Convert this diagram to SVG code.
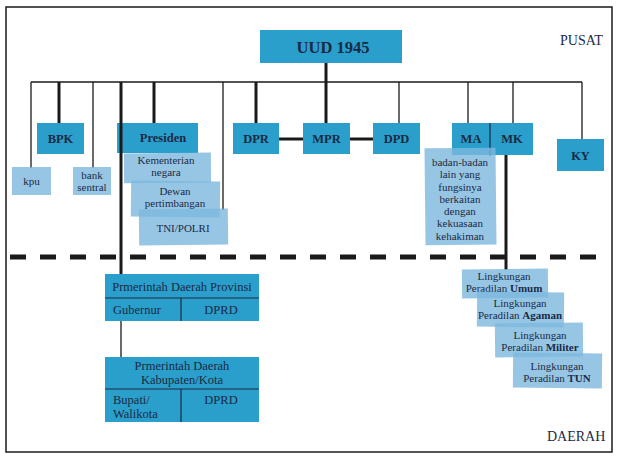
<svg xmlns="http://www.w3.org/2000/svg" width="619" height="461" viewBox="0 0 619 461">
<style>
text{font-family:"Liberation Serif","DejaVu Serif",serif;fill:#1b2a44;font-size:11px}
.b{font-weight:bold}
.s{font-size:11px}
.m{font-size:12.5px}
.lb{font-size:12.5px;font-weight:bold}
.main{fill:#2a9fcb}
.lt{fill:#7db8de;fill-opacity:0.8}
.thin{stroke:#1a1a1a;stroke-width:1.3;fill:none}
.thick{stroke:#1a1a1a;stroke-width:3;fill:none}
.div{stroke:#1b2a44;stroke-width:1.2}
</style>
<rect width="619" height="461" fill="#fff"/>
<rect x="6" y="7" width="606" height="445" fill="none" stroke="#1a1a1a" stroke-width="1.5"/>
<text x="560" y="45" style="font-size:14px">PUSAT</text>
<text x="547" y="441" style="font-size:14px">DAERAH</text>
<g id="connectors">
<line class="thin" x1="31" y1="82" x2="582" y2="82"/>
<line class="thick" x1="326" y1="63" x2="326" y2="123"/>
<line class="thin" x1="31" y1="82" x2="31" y2="168"/>
<line class="thick" x1="59" y1="82" x2="59" y2="123"/>
<line class="thin" x1="93" y1="82" x2="93" y2="168"/>
<line class="thick" x1="154" y1="82" x2="154" y2="123"/>
<line class="thin" x1="223" y1="82" x2="223" y2="210"/>
<line class="thick" x1="256" y1="82" x2="256" y2="123"/>
<line class="thin" x1="399" y1="82" x2="399" y2="123"/>
<line class="thin" x1="468" y1="82" x2="468" y2="123"/>
<line class="thin" x1="513" y1="82" x2="513" y2="123"/>
<line class="thin" x1="582" y1="82" x2="582" y2="139"/>
<line class="thick" x1="279" y1="139" x2="303" y2="139"/>
<line class="thick" x1="350" y1="139" x2="373" y2="139"/>
<line class="thick" x1="506" y1="155" x2="506" y2="270"/>
<line class="thin" x1="121" y1="321" x2="121" y2="357"/>
<line x1="10" y1="257" x2="606" y2="257" stroke="#1a1a1a" stroke-width="5" stroke-dasharray="16 14"/>
</g>
<g id="uud"><rect class="main" x="260" y="30" width="142" height="33"/><text class="b" x="333" y="53" text-anchor="middle" style="font-size:16.5px">UUD 1945</text></g>
<g id="bpk"><rect class="main" x="37" y="123" width="47" height="31"/><text class="lb" x="60.5" y="143" text-anchor="middle">BPK</text></g>
<g id="presiden"><rect class="main" x="117" y="123" width="81" height="30"/><text class="lb" x="163" y="142" text-anchor="middle">Presiden</text></g>
<g id="dpr"><rect class="main" x="233" y="123" width="46" height="31"/><text class="lb" x="256" y="143" text-anchor="middle">DPR</text></g>
<g id="mpr"><rect class="main" x="303" y="123" width="47" height="31"/><text class="lb" x="326.5" y="143" text-anchor="middle">MPR</text></g>
<g id="dpd"><rect class="main" x="373" y="123" width="47" height="31"/><text class="lb" x="396.5" y="143" text-anchor="middle">DPD</text></g>
<g id="ma-mk"><rect class="main" x="452" y="123" width="81" height="32"/><line class="div" x1="490" y1="123" x2="490" y2="156"/><text class="lb" x="471" y="143" text-anchor="middle">MA</text><text class="lb" x="512" y="143" text-anchor="middle">MK</text></g>
<g id="ky"><rect class="main" x="557" y="139" width="47" height="32"/><text class="lb" x="580.5" y="160" text-anchor="middle">KY</text></g>
<g id="kpu"><rect class="lt" x="12" y="167" width="39" height="28"/><text class="s" x="31.5" y="185" text-anchor="middle">kpu</text></g>
<g id="bank"><rect class="lt" x="73" y="167" width="38" height="28"/><text class="s" x="92" y="179" text-anchor="middle">bank</text><text class="s" x="92" y="191" text-anchor="middle">sentral</text></g>
<g id="kementerian"><rect class="lt" x="124" y="153" width="87" height="30" transform="rotate(-0.5 167 168)"/><text class="s" x="166" y="164" text-anchor="middle">Kementerian</text><text class="s" x="166" y="176" text-anchor="middle">negara</text></g>
<g id="dewan"><rect class="lt" x="131" y="181" width="89" height="36" transform="rotate(0.6 175 199)"/><text class="s" x="175" y="195" text-anchor="middle">Dewan</text><text class="s" x="175" y="207" text-anchor="middle">pertimbangan</text></g>
<g id="tni"><rect class="lt" x="139" y="209" width="89" height="36" transform="rotate(-0.6 183 227)"/><text class="s" x="183" y="232" text-anchor="middle">TNI/POLRI</text></g>
<line class="thick" x1="121" y1="82" x2="121" y2="274"/>
<g id="badan"><rect class="lt" x="425" y="148" width="71" height="97" transform="rotate(-0.6 460 196)"/>
<text class="s" x="460" y="166" text-anchor="middle">badan-badan</text>
<text class="s" x="460" y="178" text-anchor="middle">lain yang</text>
<text class="s" x="460" y="191" text-anchor="middle">fungsinya</text>
<text class="s" x="460" y="203" text-anchor="middle">berkaitan</text>
<text class="s" x="460" y="215" text-anchor="middle">dengan</text>
<text class="s" x="460" y="227" text-anchor="middle">kekuasaan</text>
<text class="s" x="460" y="240" text-anchor="middle">kehakiman</text>
</g>
<g id="provinsi"><rect class="main" x="105" y="274" width="154" height="47"/>
<line class="div" x1="105" y1="298" x2="259" y2="298"/><line class="div" x1="181" y1="298" x2="181" y2="321"/>
<text class="m" x="182" y="291" text-anchor="middle">Prmerintah Daerah Provinsi</text>
<text class="m" x="113" y="314">Gubernur</text><text class="m" x="221" y="314" text-anchor="middle">DPRD</text></g>
<g id="kabupaten"><rect class="main" x="105" y="357" width="154" height="65"/>
<line class="div" x1="105" y1="389" x2="259" y2="389"/><line class="div" x1="181" y1="389" x2="181" y2="422"/>
<text class="m" x="182" y="370" text-anchor="middle">Prmerintah Daerah</text>
<text class="m" x="182" y="384" text-anchor="middle">Kabupaten/Kota</text>
<text class="m" x="113" y="404">Bupati/</text><text class="m" x="113" y="418">Walikota</text>
<text class="m" x="221" y="404" text-anchor="middle">DPRD</text></g>
<g id="umum"><rect class="lt" x="462" y="269" width="86" height="29" transform="rotate(-0.6 505 283)"/><text class="s" x="504" y="280" text-anchor="middle">Lingkungan</text><text class="s" x="504" y="292" text-anchor="middle">Peradilan <tspan class="b">Umum</tspan></text></g>
<g id="agama"><rect class="lt" x="477" y="292" width="87" height="35" transform="rotate(0.6 520 309)"/><text class="s" x="520" y="307" text-anchor="middle">Lingkungan</text><text class="s" x="520" y="319" text-anchor="middle">Peradilan <tspan class="b">Agaman</tspan></text></g>
<g id="militer"><rect class="lt" x="495" y="323" width="88" height="34" transform="rotate(-0.6 539 340)"/><text class="s" x="540" y="339" text-anchor="middle">Lingkungan</text><text class="s" x="540" y="351" text-anchor="middle">Peradilan <tspan class="b">Militer</tspan></text></g>
<g id="tun"><rect class="lt" x="513" y="353" width="89" height="35" transform="rotate(0.5 557 370)"/><text class="s" x="557" y="370" text-anchor="middle">Lingkungan</text><text class="s" x="557" y="382" text-anchor="middle">Peradilan <tspan class="b">TUN</tspan></text></g>
</svg>
